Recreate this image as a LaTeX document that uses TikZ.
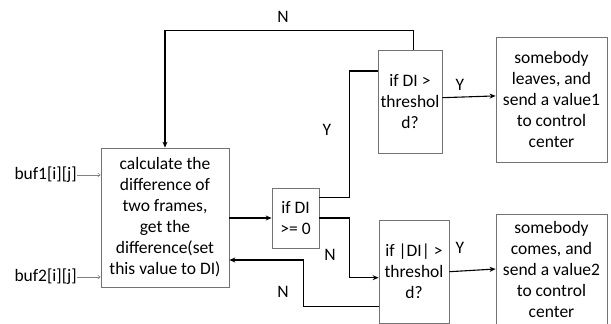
\documentclass[tikz,border=0pt]{standalone}
\usepackage{fontspec}
\setmainfont{Carlito}
\usetikzlibrary{arrows.meta}
\begin{document}
\begin{tikzpicture}[x=1pt,y=-1pt,
  box/.style={draw=black!55,line width=0.8pt,align=center,inner sep=0pt,font=\fontsize{17.5}{21}\selectfont},
  lbl/.style={font=\fontsize{17.5}{21}\selectfont,inner sep=0pt},
  conn/.style={line width=1.1pt},
  arr/.style={conn,-{Stealth[length=6pt,width=5pt]}},
  thin/.style={draw=black!50,line width=0.5pt,-{To[length=3pt,width=4pt]}}]
\useasboundingbox (0,0) rectangle (611,324);
\node[box,minimum width=128pt,minimum height=139pt] (main) at (165,217.5)
  {calculate the\\difference of\\two frames,\\get the\\difference(set\\this value to DI)};
\node[box,minimum width=47pt,minimum height=60pt] (di) at (295.5,218) {if DI\\>= 0};
\node[box,minimum width=64pt,minimum height=103pt] (topthr) at (410,101.5) {if DI >\\threshol\\d?};
\node[box,minimum width=70pt,minimum height=103pt] (botthr) at (414,271.5) {if |DI| >\\threshol\\d?};
\node[box,minimum width=111pt,minimum height=125pt] (box1) at (551.5,99.5)
  {somebody\\leaves, and\\send a value1\\to control\\center};
\node[box,minimum width=111pt,minimum height=111pt] (box2) at (551.5,269.5)
  {somebody\\comes, and\\send a value2\\to control\\center};
\node[lbl,anchor=east] (b1) at (77,175) {buf1[i][j]};
\node[lbl,anchor=east] (b2) at (77,277) {buf2[i][j]};
\draw[thin] (b1.east) -- ([yshift=42.5pt]main.west);
\draw[thin] (b2.east) -- ([yshift=-59.5pt]main.west);
% main -> di
\draw[arr] ([yshift=-0.5pt]main.east) -- (di.west);
% top N loop
\draw[arr] ([xshift=3.3pt]topthr.north) -- ++(0,-19.3) -| (main.north);
\node[lbl] (n1) at (283,17) {N};
% Y up
\draw[conn] ([yshift=20.3pt]di.east) -- (349.3,197.7) |- ([yshift=30.5pt]topthr.west);
\node[lbl] (y1) at (327,130) {Y};
% N down
\draw[arr] (di.east) -- (349.3,218) |- ([yshift=-6.2pt]botthr.west);
\node[lbl] (n2) at (330,255) {N};
% return N
\draw[arr] ([yshift=-35.2pt]botthr.west) -- (303.3,306.7) |- ([yshift=-42.5pt]main.east);
\node[lbl] (n3) at (283,292) {N};
% Y outputs
\draw[arr] ([yshift=3.8pt]topthr.east) -- ([yshift=3.6pt]box1.west);
\node[lbl] (y2) at (460,85) {Y};
\draw[arr] ([yshift=-0.2pt]botthr.east) -- ([yshift=0.5pt]box2.west);
\node[lbl] (y3) at (460,248) {Y};
\end{tikzpicture}
\end{document}
